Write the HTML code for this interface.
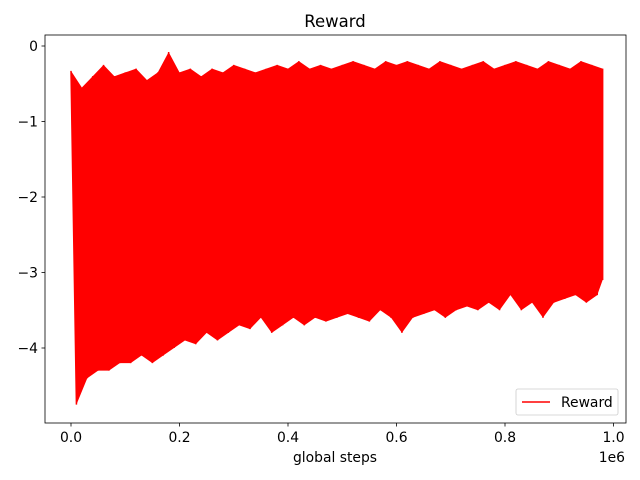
<!DOCTYPE html>
<html><head><meta charset="utf-8"><style>
body{margin:0;background:#fff}
svg{display:block;font-family:"DejaVu Sans","Liberation Sans",sans-serif}
</style></head><body>
<svg id="chart" width="640" height="480" viewBox="0 0 640 480">
<text x="335" y="27" font-size="16.5" text-anchor="middle">Reward</text>
<g id="plot"></g>
<rect x="45" y="35" width="581" height="388" fill="none" stroke="#000" stroke-width="0.8"/>
<g id="xticks"></g>
<g id="yticks"></g>
<text x="335" y="462" font-size="13.9" text-anchor="middle">global steps</text>
<text x="625" y="462" font-size="13.9" text-anchor="end">1e6</text>
<g>
<rect x="516" y="389" width="102" height="26" rx="2" fill="#fff" fill-opacity="0.8" stroke="#ccc" stroke-width="0.8"/>
<line x1="522" y1="402" x2="550" y2="402" stroke="red" stroke-width="1.5"/>
<text x="561" y="407" font-size="13.9">Reward</text>
</g>
</svg>
<script>
const xTicks=[0,0.2,0.4,0.6,0.8,1.0];
const yTicks=[0,-1,-2,-3,-4];
const binStep=0.02;
const upper=[-0.33,-0.55,-0.4,-0.25,-0.4,-0.35,-0.3,-0.45,-0.35,-0.08,-0.35,-0.3,-0.4,-0.3,-0.35,-0.25,-0.3,-0.35,-0.3,-0.25,-0.3,-0.2,-0.3,-0.25,-0.3,-0.25,-0.2,-0.25,-0.3,-0.2,-0.25,-0.2,-0.25,-0.3,-0.2,-0.25,-0.3,-0.25,-0.2,-0.3,-0.25,-0.2,-0.25,-0.3,-0.2,-0.25,-0.3,-0.2,-0.25,-0.3];
const lower=[-4.75,-4.4,-4.3,-4.3,-4.2,-4.2,-4.1,-4.2,-4.1,-4.0,-3.9,-3.95,-3.8,-3.9,-3.8,-3.7,-3.75,-3.6,-3.8,-3.7,-3.6,-3.7,-3.6,-3.65,-3.6,-3.55,-3.6,-3.65,-3.5,-3.6,-3.8,-3.6,-3.55,-3.5,-3.6,-3.5,-3.45,-3.5,-3.4,-3.5,-3.3,-3.5,-3.4,-3.6,-3.4,-3.35,-3.3,-3.4,-3.3,-3.1];
const NS="http://www.w3.org/2000/svg";
const X=v=>71+v*542.5;
const Y=v=>46-v*75.5;
const plot=document.getElementById('plot');
let fill=[],zig=[];
const n=upper.length;
for(let i=0;i<n;i++){
 const xa=i*binStep, xb=Math.min(i*binStep+binStep/2,(n-1)*binStep);
 fill.push(X(xa)+','+Y(upper[i]));
 zig.push(X(xa)+','+Y(upper[i]));zig.push(X(xb)+','+Y(lower[i]));
}
for(let i=n-1;i>=0;i--){fill.push(X(Math.min(i*binStep+binStep/2,(n-1)*binStep))+','+Y(lower[i]));}
const poly=document.createElementNS(NS,'polygon');


poly.setAttribute('points',fill.join(' '));
poly.setAttribute('fill','red');
plot.appendChild(poly);
const line=document.createElementNS(NS,'polyline');


line.setAttribute('points',zig.join(' '));
line.setAttribute('fill','none');line.setAttribute('stroke','red');line.setAttribute('stroke-width','1.5');
plot.appendChild(line);
const xg=document.getElementById('xticks');
xTicks.forEach(t=>{
 const l=document.createElementNS(NS,'line');
 
 
 l.setAttribute('x1',X(t));l.setAttribute('x2',X(t));l.setAttribute('y1',423);l.setAttribute('y2',426.5);l.setAttribute('stroke','#000');l.setAttribute('stroke-width','0.8');xg.appendChild(l);
 const s=document.createElementNS(NS,'text');
 
 
 s.setAttribute('x',X(t));s.setAttribute('y',442);s.setAttribute('font-size','13.9');s.setAttribute('text-anchor','middle');s.textContent=t.toFixed(1);xg.appendChild(s);
});
const yg=document.getElementById('yticks');
yTicks.forEach(t=>{
 const l=document.createElementNS(NS,'line');
 
 
 l.setAttribute('x1',41.5);l.setAttribute('x2',45);l.setAttribute('y1',Y(t));l.setAttribute('y2',Y(t));l.setAttribute('stroke','#000');l.setAttribute('stroke-width','0.8');yg.appendChild(l);
 const s=document.createElementNS(NS,'text');
 
 
 s.setAttribute('x',38);s.setAttribute('y',Y(t)+5);s.setAttribute('font-size','13.9');s.setAttribute('text-anchor','end');s.textContent=t===0?'0':'\u2212'+Math.abs(t);yg.appendChild(s);
});
</script>
</body></html>
